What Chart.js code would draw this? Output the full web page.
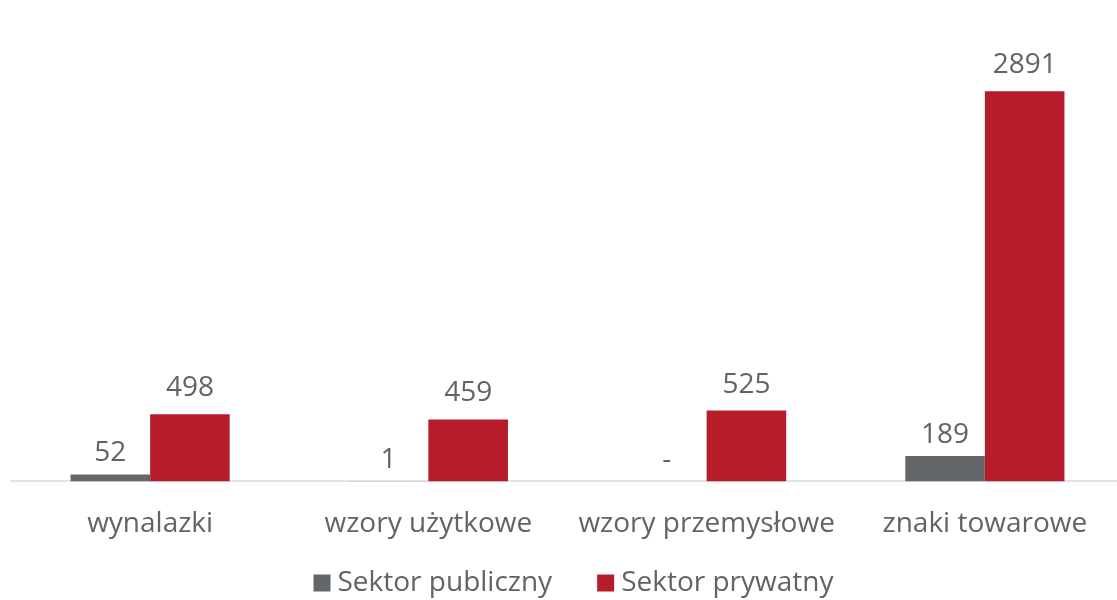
<!DOCTYPE html>
<html>
<head>
<meta charset="utf-8">
<script src="https://cdn.jsdelivr.net/npm/chart.js@4"></script>
<style>
  html, body { margin: 0; padding: 0; background: #fff; overflow: hidden; }
  #wrap { width: 1124px; height: 600px; }
</style>
</head>
<body>
<div id="wrap"><canvas id="chart"></canvas></div>
<script>
// dane
const categories = ["wynalazki", "wzory użytkowe", "wzory przemysłowe", "znaki towarowe"];
const publiczny = [52, 1, 0, 189];
const prywatny = [498, 459, 525, 2891];
const seriesNames = ["Sektor publiczny", "Sektor prywatny"];

const textColor = "#5f6468";
const fontFamily = "'Open Sans', 'Noto Sans', sans-serif";
const font = "28px " + fontFamily;

// etykiety wartosci nad slupkami
const valueLabels = {
  id: "valueLabels",
  afterDatasetsDraw(chart) {
    const ctx = chart.ctx;
    ctx.save();
    ctx.font = font;
    ctx.fillStyle = textColor;
    ctx.textAlign = "center";
    ctx.textBaseline = "alphabetic";
    chart.data.datasets.forEach((ds, i) => {
      const meta = chart.getDatasetMeta(i);
      const off = i === 0 ? 13 : 18; // szare etykiety troche nizej
      meta.data.forEach((bar, j) => {
        const v = ds.data[j];
        const txt = v === 0 ? "-" : String(v);
        ctx.fillText(txt, bar.x, bar.y - off);
      });
    });
    ctx.restore();
  }
};

// legenda rysowana recznie (mniejsze odstepy niz domyslne)
const bottomLegend = {
  id: "bottomLegend",
  afterDraw(chart) {
    const ctx = chart.ctx;
    const box = 17, gap = 7, itemGap = 45, cy = 583;
    ctx.save();
    ctx.font = font;
    ctx.textBaseline = "middle";
    ctx.textAlign = "left";
    const items = chart.data.datasets.map(ds => ({
      text: ds.label, color: ds.backgroundColor, w: box + gap + ctx.measureText(ds.label).width
    }));
    const total = items.reduce((s, it) => s + it.w, 0) + itemGap * (items.length - 1);
    let x = chart.width / 2 + 11.5 - total / 2;
    items.forEach(it => {
      ctx.fillStyle = it.color;
      ctx.fillRect(x, cy - box / 2, box, box);
      ctx.fillStyle = textColor;
      ctx.fillText(it.text, x + box + gap, cy);
      x += it.w + itemGap;
    });
    ctx.restore();
  }
};

new Chart(document.getElementById("chart"), {
  type: "bar",
  data: {
    labels: categories,
    datasets: [
      { label: seriesNames[0], data: publiczny, backgroundColor: "#63676a" },
      { label: seriesNames[1], data: prywatny, backgroundColor: "#b71c2b" }
    ]
  },
  options: {
    responsive: true,
    maintainAspectRatio: false,
    animation: false,
    layout: { padding: { top: 9, left: 11, right: 0, bottom: 41 } },
    plugins: {
      legend: { display: false },
      tooltip: { enabled: false }
    },
    datasets: {
      bar: { barPercentage: 1, categoryPercentage: 0.572 }
    },
    scales: {
      x: {
        grid: { display: false },
        border: { color: "#e3e3e3", width: 2 },
        ticks: { color: textColor, font: { size: 28, family: fontFamily }, padding: 18 }
      },
      y: {
        display: false,
        min: 0,
        max: 3500
      }
    }
  },
  plugins: [valueLabels, bottomLegend]
});
</script>
</body>
</html>
